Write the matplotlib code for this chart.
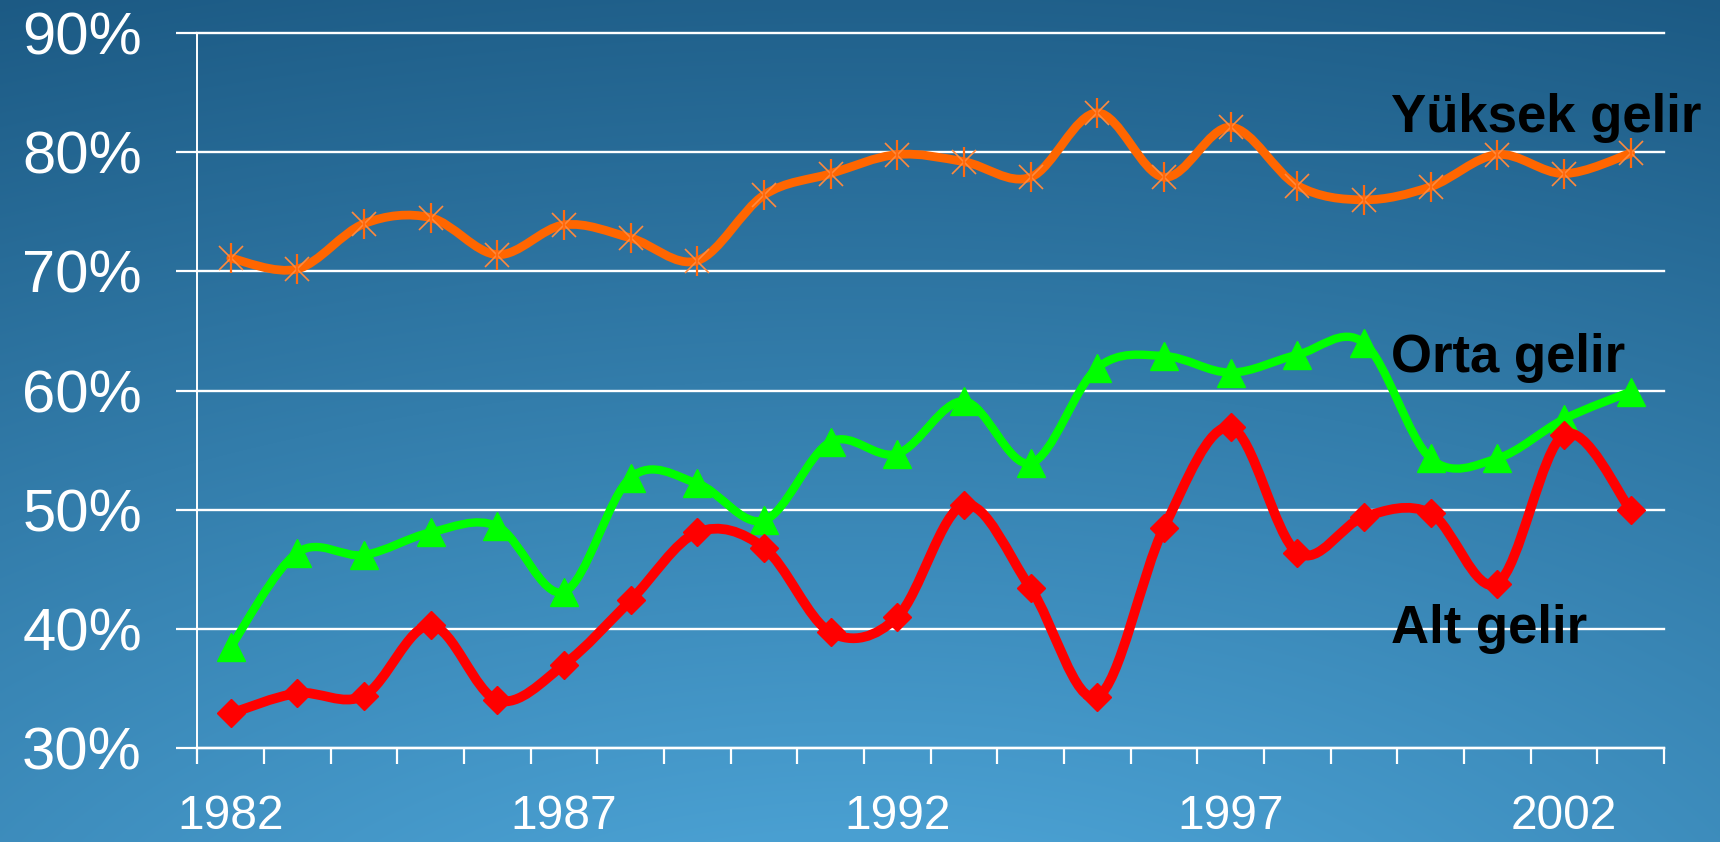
import numpy as np
import matplotlib
matplotlib.use("Agg")
import matplotlib.pyplot as plt
from matplotlib.path import Path
from matplotlib.patches import PathPatch
from matplotlib.ticker import FixedLocator, NullFormatter, FixedFormatter

# ---------------- data ----------------
years = list(range(1982, 2004))
high_income = [71.1, 70.2, 74.0, 74.5, 71.4, 73.9, 72.8, 70.9, 76.4, 78.2, 79.8,
               79.2, 77.9, 83.3, 77.9, 82.1, 77.2, 76.0, 77.1, 79.8, 78.2, 79.9]
middle_income = [38.5, 46.4, 46.2, 48.1, 48.6, 43.1, 52.7, 52.2, 49.1, 55.7, 54.7,
                 59.1, 53.9, 61.9, 62.9, 61.5, 63.0, 64.0, 54.3, 54.3, 57.6, 59.9]
low_income = [32.9, 34.6, 34.4, 40.3, 34.0, 37.0, 42.4, 48.1, 46.8, 39.7, 41.0,
              50.4, 43.4, 34.3, 48.5, 56.9, 46.4, 49.4, 49.7, 43.8, 56.3, 50.0]
y_ticks = [30, 40, 50, 60, 70, 80, 90]
x_label_years = [1982, 1987, 1992, 1997, 2002]
series_names = ["Yüksek gelir", "Orta gelir", "Alt gelir"]

FONT = ["Liberation Sans", "DejaVu Sans"]
plt.rcParams["font.family"] = FONT

fig = plt.figure(figsize=(17.2, 8.42), dpi=100)

# ---------------- background gradient ----------------
bg = fig.add_axes([0, 0, 1, 1], zorder=-10)
H, W = 300, 600
yy, xx = np.mgrid[0:H, 0:W]
xn = xx / (W - 1)
yn = yy / (H - 1)
d = np.sqrt(((xn - 0.5) * 1.0) ** 2 + (yn - 1.25) ** 2)
t = np.clip((d - 0.25) / (1.35 - 0.25), 0, 1)
c_light = np.array([74, 160, 210]) / 255
c_dark = np.array([28, 90, 132]) / 255
img = c_light[None, None, :] * (1 - t[..., None]) + c_dark[None, None, :] * t[..., None]
bg.imshow(img, aspect="auto", extent=[0, 1, 0, 1], origin="upper", interpolation="bilinear")
bg.set_axis_off()

# ---------------- main axes ----------------
ax = fig.add_axes([0.1148, 0.1116, 0.9674 - 0.1148, 0.9608 - 0.1116])
ax.set_facecolor("none")
n = len(years)
xs = np.arange(n)
ax.set_xlim(-0.5, n - 0.5)
ax.set_ylim(30, 90)


def smooth_path(x, y):
    pts = np.column_stack([x, y]).astype(float)
    m = len(pts)
    verts = [pts[0]]
    codes = [Path.MOVETO]
    for i in range(m - 1):
        p0 = pts[i - 1] if i > 0 else pts[i]
        p1 = pts[i]
        p2 = pts[i + 1]
        p3 = pts[i + 2] if i + 2 < m else pts[i + 1]
        c1 = p1 + (p2 - p0) / 6.0
        c2 = p2 - (p3 - p1) / 6.0
        verts += [c1, c2, p2]
        codes += [Path.CURVE4] * 3
    return Path(verts, codes)


# high income (orange, asterisk markers)
ax.add_patch(PathPatch(smooth_path(xs, high_income), facecolor="none",
                       edgecolor="#FF6600", lw=6.3, capstyle="round", joinstyle="round", zorder=3))
ax.plot(xs, high_income, ls="none", marker="x", ms=17, mew=1.2, color="#FF8A3D", zorder=4)
ax.plot(xs, high_income, ls="none", marker="|", ms=22, mew=1.6, color="#FF6A10", zorder=4)

# middle income (green triangles)
ax.add_patch(PathPatch(smooth_path(xs, middle_income), facecolor="none",
                       edgecolor="#00FF00", lw=6.0, capstyle="round", joinstyle="round", zorder=3))
ax.plot(xs, middle_income, ls="none", marker="^", ms=20, color="#00FF00", mec="#00FF00", zorder=4)

# low income (red diamonds)
ax.add_patch(PathPatch(smooth_path(xs, low_income), facecolor="none",
                       edgecolor="#FF0000", lw=7.0, capstyle="round", joinstyle="round", zorder=5))
ax.plot(xs, low_income, ls="none", marker="D", ms=14, color="#FF0000", mec="#FF0000", zorder=6)

# ---------------- axes styling ----------------
for s in ["top", "right"]:
    ax.spines[s].set_visible(False)
ax.spines["left"].set_color("white")
ax.spines["left"].set_linewidth(1.4)
ax.spines["bottom"].set_color("white")
ax.spines["bottom"].set_linewidth(1.7)

ax.set_yticks(y_ticks)
ax.set_yticklabels([f"{v}%" for v in y_ticks])
ax.tick_params(axis="y", colors="white", length=15, width=1.6, pad=25, labelsize=43)
ax.yaxis.grid(True, color="white", lw=1.7)
for gl in ax.get_ygridlines():
    gl.set_clip_on(False)
ax.set_axisbelow(True)

ax.xaxis.set_major_locator(FixedLocator(np.arange(n + 1) - 0.5))
ax.xaxis.set_major_formatter(NullFormatter())
label_pos = [years.index(y) for y in x_label_years]
ax.xaxis.set_minor_locator(FixedLocator(label_pos))
ax.xaxis.set_minor_formatter(FixedFormatter([str(y) for y in x_label_years]))
ax.tick_params(axis="x", which="major", colors="white", length=11.5, width=1.6)
ax.tick_params(axis="x", which="minor", colors="white", length=0, pad=33, labelsize=34.5)

# ---------------- series labels ----------------
label_x = 17.4
ax.text(label_x, 81.7, series_names[0], fontsize=38, fontweight="bold", color="black", va="baseline", ha="left")
ax.text(label_x, 61.55, series_names[1], fontsize=38, fontweight="bold", color="black", va="baseline", ha="left")
ax.text(label_x, 38.8, series_names[2], fontsize=38, fontweight="bold", color="black", va="baseline", ha="left")

fig.savefig("out.png", dpi=100)
